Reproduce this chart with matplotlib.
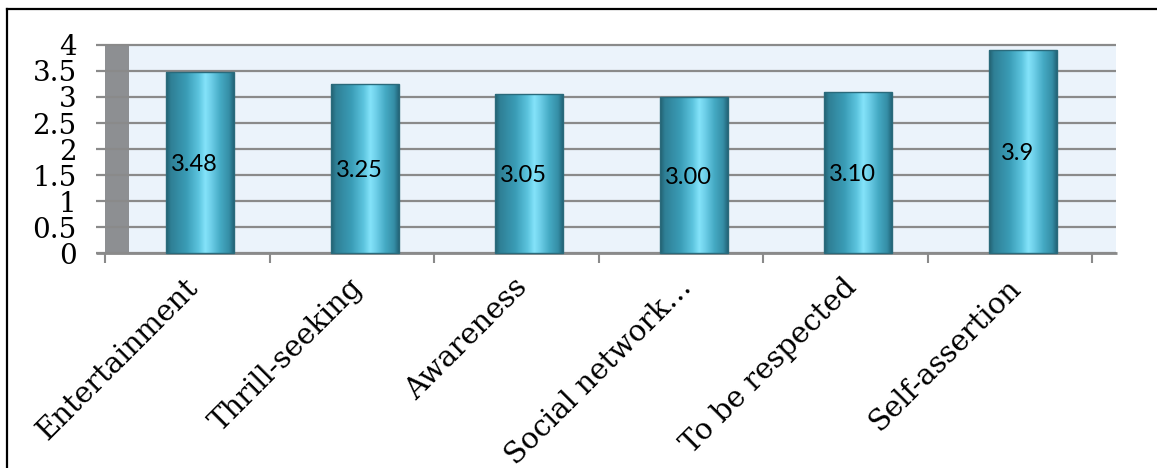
import matplotlib.pyplot as plt
import numpy as np
from matplotlib.colors import LinearSegmentedColormap
from matplotlib.patches import Rectangle
from matplotlib.lines import Line2D

categories = ["Entertainment", "Thrill-seeking", "Awareness",
              "Social network\u2026", "To be respected", "Self-assertion"]
scores = [3.48, 3.25, 3.05, 3.00, 3.10, 3.9]
score_labels = ["3.48", "3.25", "3.05", "3.00", "3.10", "3.9"]
y_ticks = [0, 0.5, 1, 1.5, 2, 2.5, 3, 3.5, 4]
y_tick_labels = ["0", "0.5", "1", "1.5", "2", "2.5", "3", "3.5", "4"]

W, H = 1157, 468
fig = plt.figure(figsize=(W / 100, H / 100), dpi=100, facecolor="white")

# pixel layout of the plot area
ax_l, ax_r, ax_t, ax_b = 96, 1122, 40, 265
ax = fig.add_axes([ax_l / W, 1 - ax_b / H, (ax_r - ax_l) / W, (ax_b - ax_t) / H])

# category width 164.5 px starting at x=105 px, 52 px per unit on y
px_per_cat, x0_px = 164.5, 105
px_per_unit, y0_px = 52, 253
ax.set_xlim((ax_l - x0_px) / px_per_cat, (ax_r - x0_px) / px_per_cat)
ax.set_ylim((y0_px - ax_b) / px_per_unit, (y0_px - ax_t) / px_per_unit)
for s in ax.spines.values():
    s.set_visible(False)
ax.patch.set_visible(False)

n = len(categories)
depth = 24 / px_per_cat          # 3d offset of back wall
grid_left = -9 / px_per_cat
wall_right = n + depth
ymax = y_ticks[-1]

# side wall and back wall
ax.add_patch(Rectangle((0, 0), depth, ymax, facecolor="#8d8f92", edgecolor="none", zorder=0))
ax.add_patch(Rectangle((depth, 0), wall_right - depth, ymax, facecolor="#ebf3fb",
                       edgecolor="none", zorder=0))
ax.hlines(y_ticks, grid_left, wall_right, color="#8a8a8a", lw=1.6, zorder=1)
ax.hlines(0, grid_left, wall_right + 0.005, color="#8a8a8a", lw=2.0, zorder=1)
ax.vlines(np.arange(n + 1), -10 / px_per_unit, 0, color="#8a8a8a", lw=1.5, zorder=1)

# cylinder shading across each bar
cyl = LinearSegmentedColormap.from_list("cyl", [
    (0.0, "#215f6f"), (0.07, "#2f7f95"), (0.3, "#3a9cb6"), (0.48, "#5cc4de"),
    (0.58, "#84e3fa"), (0.66, "#6fd0ea"), (0.8, "#45aac4"), (0.93, "#358ea6"),
    (1.0, "#23657a")])
grad = cyl(np.linspace(0, 1, 256))[np.newaxis, :, :3]

bar_w = 68 / px_per_cat
bar_off = 0.58
for i, (v, lab) in enumerate(zip(scores, score_labels)):
    xc = i + bar_off
    im = ax.imshow(grad, extent=(xc - bar_w / 2, xc + bar_w / 2, 0, v),
                   aspect="auto", interpolation="bilinear", zorder=2)
    rect = Rectangle((xc - bar_w / 2, 0), bar_w, v, facecolor="none",
                     edgecolor="#2a6a7b", lw=1.0, zorder=3)
    ax.add_patch(rect)
    im.set_clip_path(rect)
    ax.text(xc - 0.035, v / 2 - 0.04, lab, ha="center", va="center",
            fontsize=17, family="Lato", color="black", zorder=4)

ax.set_xticks(np.arange(n) + 0.48)
ax.set_xticklabels(categories, rotation=45, ha="right", rotation_mode="anchor",
                   fontsize=21, family="DejaVu Serif")
ax.tick_params(axis="x", length=0, pad=6)
ax.set_yticks(y_ticks)
ax.set_yticklabels(y_tick_labels, fontsize=20, family="DejaVu Serif")
ax.tick_params(axis="y", length=0, pad=14)

# outer frame (left and top edges)
fig.add_artist(Line2D([7 / W, 7 / W], [0, 1 - 9 / H], color="black", lw=1.6,
                      transform=fig.transFigure))
fig.add_artist(Line2D([7 / W, 1], [1 - 9 / H, 1 - 9 / H], color="black", lw=1.6,
                      transform=fig.transFigure))

fig.savefig("out.png", dpi=100, facecolor="white")
